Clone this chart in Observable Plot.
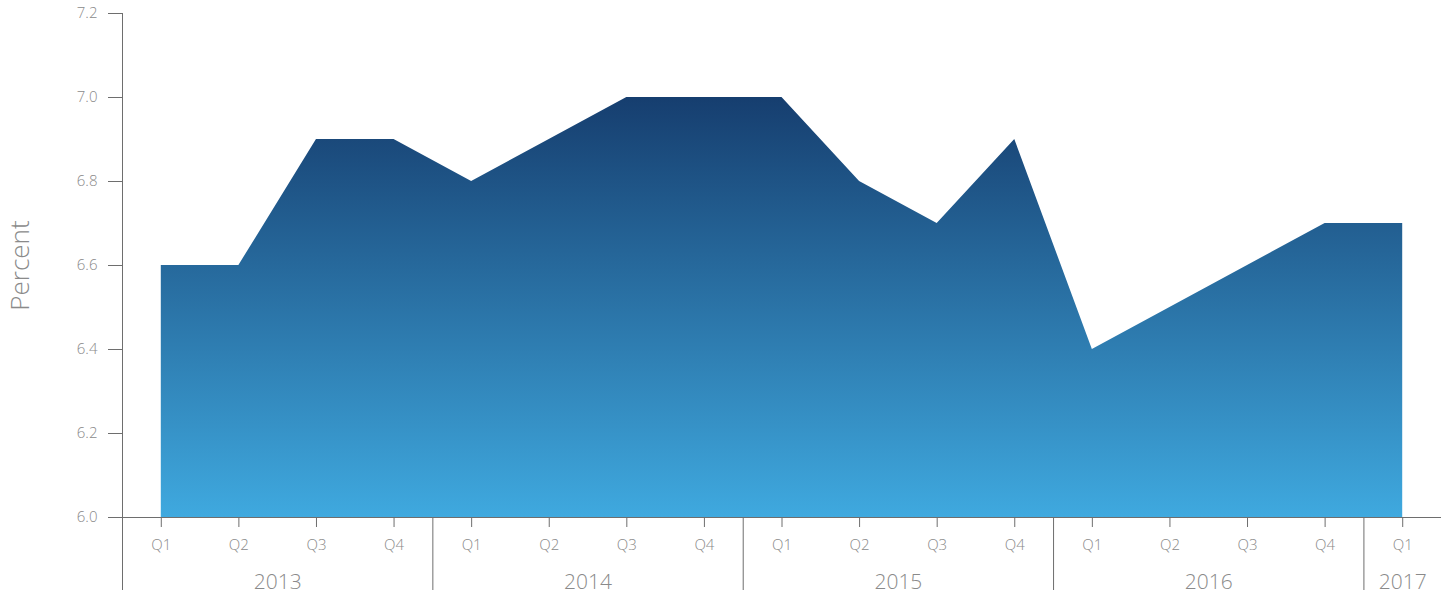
<!DOCTYPE html>
<html>
<head>
<meta charset="utf-8">
<script src="https://cdn.jsdelivr.net/npm/d3@7"></script>
<script src="https://cdn.jsdelivr.net/npm/@observablehq/plot@0.6"></script>
<style>
  html, body { margin: 0; padding: 0; background: #fff; }
  #chart svg { font-family: "Open Sans", sans-serif; font-weight: 300; }
</style>
</head>
<body>
<div id="chart"></div>
<script>
const quarterLabels = ["Q1","Q2","Q3","Q4","Q1","Q2","Q3","Q4","Q1","Q2","Q3","Q4","Q1","Q2","Q3","Q4","Q1"];
const periodYears = [2013,2013,2013,2013,2014,2014,2014,2014,2015,2015,2015,2015,2016,2016,2016,2016,2017];
const values = [6.6, 6.6, 6.9, 6.9, 6.8, 6.9, 7.0, 7.0, 7.0, 6.8, 6.7, 6.9, 6.4, 6.5, 6.6, 6.7, 6.7];
const yearNames = ["2013", "2014", "2015", "2016", "2017"];
const yTicks = [6.0, 6.2, 6.4, 6.6, 6.8, 7.0, 7.2];

const data = values.map((v, i) => ({i, v, q: quarterLabels[i], year: String(periodYears[i])}));
const idx = data.map(d => d.i);
const yearBounds = [];
const yearCenters = [];
yearNames.forEach(y => {
  const is = data.filter(d => d.year === y).map(d => d.i);
  const lo = d3.min(is) - 0.5, hi = d3.max(is) + 0.5;
  yearBounds.push(lo);
  yearCenters.push({pos: (lo + hi) / 2, year: y});
});

const axisStroke = "#6e6e6e";
const textFill = "#8a8a8a";

const chart = Plot.plot({
  width: 1453,
  height: 593,
  marginLeft: 122,
  marginRight: 12,
  marginTop: 13,
  marginBottom: 76,
  style: {background: "#fff", color: textFill, overflow: "visible"},
  x: {type: "linear", domain: [-0.5, values.length - 0.5], axis: null},
  y: {domain: [6.0, 7.2], axis: null},
  marks: [
    Plot.areaY(data, {x: "i", y1: 6.0, y2: "v", fill: "url(#areaGrad)"}),
    Plot.ruleY([6.0], {stroke: axisStroke}),
    Plot.ruleX([-0.5], {y1: 6.0, y2: 7.2, stroke: axisStroke}),
    Plot.axisY({ticks: yTicks, tickFormat: d3.format(".1f"), tickSize: 14, tickPadding: 11,
      fontSize: 15, stroke: axisStroke, fill: textFill, label: null}),
    Plot.axisX({ticks: idx, tickSize: 10, tickPadding: 12, fontSize: 15,
      tickFormat: i => quarterLabels[i], stroke: axisStroke, fill: textFill, label: null}),
    Plot.axisX({ticks: yearBounds, tickSize: 73, tickFormat: () => "", stroke: axisStroke, label: null}),
    Plot.axisX({ticks: yearCenters.map(d => d.pos), tickSize: 0, tickPadding: 57, fontSize: 21,
      tickFormat: p => yearCenters.find(d => d.pos === p).year, fill: textFill, label: null}),
    Plot.text(["Percent"], {frameAnchor: "left", dx: -102, rotate: -90, textAnchor: "middle",
      fontSize: 26, fill: textFill})
  ]
});

const defs = d3.select(chart).insert("defs", ":first-child");
const grad = defs.append("linearGradient")
  .attr("id", "areaGrad").attr("x1", 0).attr("y1", 0).attr("x2", 0).attr("y2", 1);
grad.append("stop").attr("offset", "0%").attr("stop-color", "#163e6f");
grad.append("stop").attr("offset", "100%").attr("stop-color", "#3fa9df");

document.getElementById("chart").appendChild(chart);
</script>
</body>
</html>
